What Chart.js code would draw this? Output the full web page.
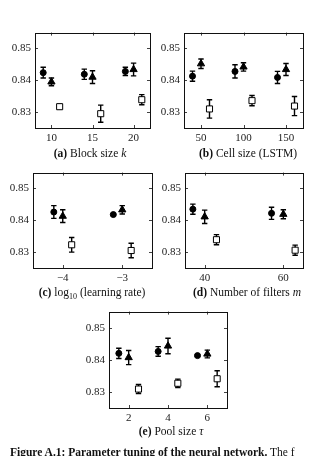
<!DOCTYPE html>
<html>
<head>
<meta charset="utf-8">
<script src="https://cdn.jsdelivr.net/npm/chart.js@4.4.0/dist/chart.umd.min.js"></script>
<style>
  html, body { margin: 0; padding: 0; background: #fff; }
  body { width: 323px; height: 456px; position: relative; overflow: hidden; font-family: "Liberation Serif", "DejaVu Serif", serif; color: #111; }
  canvas { position: absolute; }
  .cap { position: absolute; font-size: 11.5px; white-space: nowrap; transform: translateX(-50%); line-height: 12px; }
  .cap b { font-weight: bold; }
  .fig { position: absolute; left: 10px; top: 446px; font-size: 11.5px; white-space: nowrap; line-height: 12px; }
</style>
</head>
<body>
<canvas id="panelA"></canvas>
<canvas id="panelB"></canvas>
<canvas id="panelC"></canvas>
<canvas id="panelD"></canvas>
<canvas id="panelE"></canvas>

<div class="cap" style="left:90px; top:147px;"><b>(a)</b> Block size <i>k</i></div>
<div class="cap" style="left:248px; top:147px;"><b>(b)</b> Cell size (LSTM)</div>
<div class="cap" style="left:92px; top:286px;"><b>(c)</b> log<sub style="font-size:8px">10</sub> (learning rate)</div>
<div class="cap" style="left:247px; top:286px;"><b>(d)</b> Number of filters <i>m</i></div>
<div class="cap" style="left:171px; top:425px;"><b>(e)</b> Pool size <i>τ</i></div>
<div class="fig"><b>Figure A.1: Parameter tuning of the neural network.</b> The f</div>

<script>
// series order in every panel: filled circle, filled triangle, open square
const yTicks = [0.83, 0.84, 0.85];

// (a) block size k
const blockX = [[9, 14, 19], [10, 15, 20], [11, 16, 21]];
const blockY = [[0.8424, 0.8419, 0.8428], [0.8395, 0.8410, 0.8434], [0.8317, 0.8295, 0.8339]];
const blockErr = [[0.0017, 0.0016, 0.0013], [0.0012, 0.0020, 0.0020], [0.0007, 0.0027, 0.0016]];
const blockTicks = [10, 15, 20];

// (b) cell size (LSTM)
const cellX = [[40, 90, 140], [50, 100, 150], [60, 110, 160]];
const cellY = [[0.8413, 0.8428, 0.8409], [0.8452, 0.8442, 0.8434], [0.8310, 0.8336, 0.8319]];
const cellErr = [[0.0016, 0.0021, 0.0019], [0.0015, 0.0013, 0.0019], [0.0029, 0.0016, 0.0030]];
const cellTicks = [50, 100, 150];

// (c) log10 of the learning rate
const lrX = [[-4.15, -3.15], [-4, -3], [-3.85, -2.85]];
const lrY = [[0.8426, 0.8418], [0.8413, 0.8433], [0.8323, 0.8305]];
const lrErr = [[0.0020, 0.0003], [0.0020, 0.0013], [0.0023, 0.0023]];
const lrTicks = [-4, -3];

// (d) number of filters m
const filterX = [[37, 57], [40, 60], [43, 63]];
const filterY = [[0.8435, 0.8422], [0.8411, 0.8419], [0.8339, 0.8306]];
const filterErr = [[0.0016, 0.0019], [0.0021, 0.0014], [0.0016, 0.0016]];
const filterTicks = [40, 60];

// (e) pool size tau
const poolX = [[1.5, 3.5, 5.5], [2, 4, 6], [2.5, 4.5, 6.5]];
const poolY = [[0.8420, 0.8426, 0.8413], [0.8407, 0.8443, 0.8418], [0.8309, 0.8327, 0.8341]];
const poolErr = [[0.0016, 0.0015, 0.0003], [0.0022, 0.0024, 0.0012], [0.0014, 0.0013, 0.0025]];
const poolTicks = [2, 4, 6];

const MARKERS = [
    { pointStyle: 'circle', radius: 3, backgroundColor: '#000', borderColor: '#000', borderWidth: 1 },
    { pointStyle: 'triangle', radius: 4.2, backgroundColor: '#000', borderColor: '#000', borderWidth: 1 },
    { pointStyle: 'rect', radius: 4.3, backgroundColor: '#fff', borderColor: '#000', borderWidth: 1 }
];

const YW = 34, PT = 6, PR = 6, XH = 20;
const TICK_FONT = { family: 'Liberation Serif', size: 11 };

// vertical error bars with caps, drawn under the markers
const errorBars = {
    id: 'errorBars',
    beforeDatasetsDraw(chart) {
        const ctx = chart.ctx;
        const ys = chart.scales.y;
        ctx.save();
        ctx.strokeStyle = '#000';
        ctx.lineWidth = 1.4;
        chart.data.datasets.forEach((ds, i) => {
            const meta = chart.getDatasetMeta(i);
            meta.data.forEach((pt, j) => {
                const d = ds.data[j];
                const top = ys.getPixelForValue(d.y + d.e);
                const bot = ys.getPixelForValue(d.y - d.e);
                ctx.beginPath();
                ctx.moveTo(pt.x, top);
                ctx.lineTo(pt.x, bot);
                ctx.moveTo(pt.x - 2.7, top);
                ctx.lineTo(pt.x + 2.7, top);
                ctx.moveTo(pt.x - 2.7, bot);
                ctx.lineTo(pt.x + 2.7, bot);
                ctx.stroke();
            });
        });
        ctx.restore();
    }
};

// box frame with short inward ticks on all four sides
const boxFrame = {
    id: 'boxFrame',
    afterDraw(chart) {
        const { ctx, chartArea: a } = chart;
        const xs = chart.scales.x, ys = chart.scales.y;
        ctx.save();
        ctx.strokeStyle = '#111';
        ctx.lineWidth = 1;
        ctx.strokeRect(Math.round(a.left) + 0.5, Math.round(a.top) + 0.5,
            Math.round(a.right - a.left), Math.round(a.bottom - a.top));
        ctx.lineWidth = 0.8;
        ctx.beginPath();
        xs.ticks.forEach(t => {
            const px = Math.round(xs.getPixelForValue(t.value)) + 0.5;
            ctx.moveTo(px, a.bottom); ctx.lineTo(px, a.bottom - 3);
            ctx.moveTo(px, a.top); ctx.lineTo(px, a.top + 3);
        });
        ys.ticks.forEach(t => {
            const py = Math.round(ys.getPixelForValue(t.value)) + 0.5;
            ctx.moveTo(a.left, py); ctx.lineTo(a.left + 3, py);
            ctx.moveTo(a.right, py); ctx.lineTo(a.right - 3, py);
        });
        ctx.stroke();
        ctx.restore();
    }
};

function makePanel(id, box, xMin, xMax, xs, ys, errs, ticks, fmt) {
    const canvas = document.getElementById(id);
    canvas.width = box.r - box.l + YW + PR;
    canvas.height = box.b - box.t + PT + XH;
    canvas.style.left = (box.l - YW) + 'px';
    canvas.style.top = (box.t - PT) + 'px';

    const datasets = xs.map((col, s) => Object.assign({
        data: col.map((x, j) => ({ x: x, y: ys[s][j], e: errs[s][j] })),
        pointRadius: MARKERS[s].radius,
        pointHoverRadius: MARKERS[s].radius,
        pointStyle: MARKERS[s].pointStyle,
        pointBackgroundColor: MARKERS[s].backgroundColor,
        pointBorderColor: MARKERS[s].borderColor,
        pointBorderWidth: MARKERS[s].borderWidth,
        showLine: false
    }));

    return new Chart(canvas.getContext('2d'), {
        type: 'scatter',
        data: { datasets: datasets },
        plugins: [errorBars, boxFrame],
        options: {
            responsive: false,
            animation: false,
            devicePixelRatio: 1,
            layout: { padding: { top: PT, right: PR, left: 0, bottom: 0 } },
            plugins: { legend: { display: false }, tooltip: { enabled: false } },
            scales: {
                x: {
                    type: 'linear',
                    min: xMin,
                    max: xMax,
                    grid: { display: false, drawTicks: false },
                    border: { display: false },
                    afterBuildTicks: (s) => { s.ticks = ticks.map(v => ({ value: v })); },
                    afterFit: (s) => { s.height = XH; },
                    ticks: {
                        color: '#222',
                        font: TICK_FONT,
                        padding: 4,
                        maxRotation: 0,
                        callback: (v) => fmt ? fmt(v) : String(v)
                    }
                },
                y: {
                    min: 0.825,
                    max: 0.855,
                    grid: { display: false, drawTicks: false },
                    border: { display: false },
                    afterBuildTicks: (s) => { s.ticks = yTicks.map(v => ({ value: v })); },
                    afterFit: (s) => { s.width = YW; },
                    ticks: {
                        color: '#222',
                        font: TICK_FONT,
                        padding: 4,
                        callback: (v) => v.toFixed(2)
                    }
                }
            }
        }
    });
}

makePanel('panelA', { l: 35, t: 28, r: 150, b: 128 }, 8, 22, blockX, blockY, blockErr, blockTicks);
makePanel('panelB', { l: 184, t: 28, r: 303, b: 128 }, 30, 170, cellX, cellY, cellErr, cellTicks);
makePanel('panelC', { l: 33, t: 168, r: 152, b: 268 }, -4.5, -2.5, lrX, lrY, lrErr, lrTicks,
    (v) => '\u2212' + Math.abs(v));
makePanel('panelD', { l: 185, t: 168, r: 303, b: 268 }, 35, 65, filterX, filterY, filterErr, filterTicks);
makePanel('panelE', { l: 109, t: 307, r: 227, b: 408 }, 1, 7, poolX, poolY, poolErr, poolTicks);
</script>
</body>
</html>
